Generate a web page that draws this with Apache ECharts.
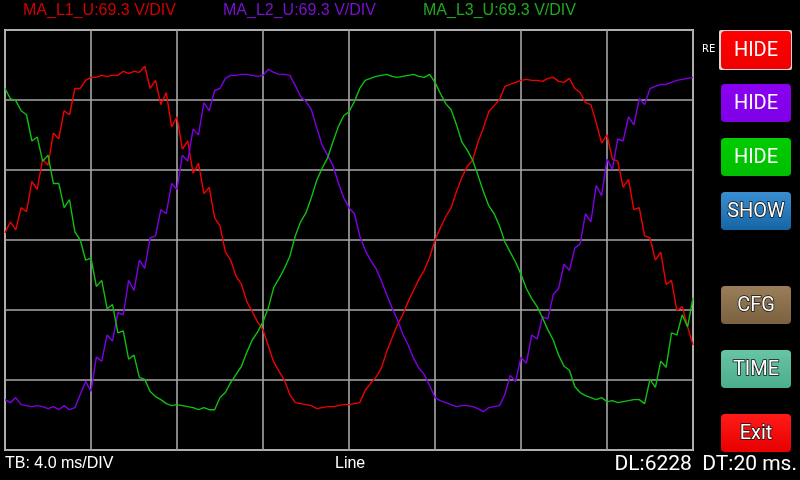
<!DOCTYPE html>
<html><head><meta charset="utf-8">
<script src="https://cdn.jsdelivr.net/npm/echarts@6/dist/echarts.min.js"></script>
<style>html,body{margin:0;padding:0;background:#000;}#c{width:800px;height:480px;}</style>
</head><body><div id="c"></div>
<script>
// Oscilloscope capture: 129 samples, 0.25 ms apart, 4.0 ms/DIV, 69.3 V/DIV
const SAMPLE_MS = 0.25;
const TIME_PER_DIV = 4.0;
const VOLT_PER_DIV = 69.3;
const channelNames = ['MA_L1_U', 'MA_L2_U', 'MA_L3_U'];
const channelColors = ['#f00000', '#8000e6', '#10c010'];
const labelColors = ['#d00000', '#7a10d0', '#20a820'];

const l1Volts = [7,18,10,32,28,58,50,80,74,106,100,128,124,150,150,158,161,161,163,162,163,163,167,165,167,166,172,150,158,134,146,112,122,90,98,66,76,46,52,22,14,-12,-20,-36,-44,-61,-71,-81,-89,-105,-121,-130,-139,-153,-161,-162,-163,-164,-167,-166,-165,-165,-164,-163,-163,-162,-161,-149,-142,-136,-127,-111,-97,-84,-74,-61,-50,-39,-30,-17,0,12,23,32,48,62,73,79,97,111,127,133,139,152,154,156,158,159,158,158,157,160,161,157,156,160,150,146,136,134,116,96,104,80,78,52,60,30,32,4,2,-20,-12,-44,-40,-70,-66,-86,-104];

const l2Volts = [-158,-161,-156,-163,-164,-165,-164,-165,-167,-165,-168,-164,-168,-166,-153,-140,-150,-116,-120,-94,-100,-72,-74,-40,-50,-20,-28,2,4,30,26,56,50,84,78,110,104,136,128,148,150,160,163,163,164,164,163,162,163,169,166,164,164,163,153,142,137,129,111,94,84,74,57,42,32,26,4,-10,-20,-28,-40,-54,-67,-79,-93,-104,-117,-127,-133,-144,-156,-159,-161,-163,-165,-164,-164,-165,-167,-170,-166,-165,-164,-153,-134,-140,-116,-122,-94,-98,-76,-78,-54,-48,-24,-30,-8,-4,26,18,54,44,80,70,100,98,122,114,140,134,150,152,154,154,156,158,159,160,161];

const l3Volts = [150,140,138,128,124,98,102,78,84,56,56,32,40,8,0,-20,-18,-46,-40,-68,-64,-92,-90,-118,-114,-136,-138,-150,-155,-158,-162,-164,-163,-164,-165,-166,-168,-166,-168,-168,-156,-151,-141,-133,-125,-111,-99,-91,-81,-67,-47,-38,-28,-16,4,18,27,42,59,71,81,97,112,123,127,137,150,158,160,162,163,164,162,161,162,163,164,162,161,164,156,145,135,129,114,97,89,79,64,48,34,26,14,-2,-12,-22,-34,-48,-58,-66,-77,-89,-99,-114,-125,-129,-145,-151,-154,-156,-158,-156,-160,-159,-161,-160,-159,-158,-158,-162,-138,-146,-120,-126,-92,-94,-74,-86,-57];

const channelData = [l1Volts, l2Volts, l3Volts];
const sampleTimes = l1Volts.map((_, i) => +(i * SAMPLE_MS).toFixed(2));

const headerTexts = channelNames.map(n => n + ':' + VOLT_PER_DIV.toFixed(1) + ' V/DIV');
const footerLeft = 'TB: ' + TIME_PER_DIV.toFixed(1) + ' ms/DIV';
const footerMid = 'Line';
const footerRight = 'DL:6228  DT:20 ms.';

const buttons = [
  {label: 'HIDE', color: '#ff0000', color2: '#f00000', y: 31, outline: false, frame: true},
  {label: 'HIDE', color: '#8a00f2', color2: '#7f00e6', y: 84, outline: false},
  {label: 'HIDE', color: '#00cc00', color2: '#00bf00', y: 138, outline: false},
  {label: 'SHOW', color: '#3a8ed0', color2: '#1465a6', y: 192, outline: true},
  {label: 'CFG', color: '#9a7e58', color2: '#7b6140', y: 286, outline: true},
  {label: 'TIME', color: '#68c4a4', color2: '#4aae8c', y: 350, outline: true},
  {label: 'Exit', color: '#ff1a1a', color2: '#e80000', y: 414, outline: true}
];

const chart = echarts.init(document.getElementById('c'), null, {renderer: 'canvas'});

const graphics = [];
headerTexts.forEach((t, i) => {
  graphics.push({type: 'text', left: 23 + i * 200, top: 3, style: {text: t, fill: labelColors[i], font: '16px "Liberation Sans", Arial, sans-serif'}});
});
graphics.push({type: 'text', left: 5, top: 456, style: {text: footerLeft, fill: '#ffffff', font: '16px "Liberation Sans", Arial, sans-serif'}});
graphics.push({type: 'text', left: 335, top: 456, style: {text: footerMid, fill: '#ffffff', font: '16px "Liberation Sans", Arial, sans-serif'}});
graphics.push({type: 'text', right: 3, top: 454, style: {text: footerRight, fill: '#ffffff', font: '21px Roboto, sans-serif'}});
graphics.push({type: 'text', left: 702, top: 44, style: {text: 'RE', fill: '#ffffff', font: '10px "DejaVu Sans", sans-serif'}});

buttons.forEach(b => {
  if (b.frame) {
    graphics.push({type: 'rect', shape: {x: 719, y: b.y - 1, width: 73, height: 40, r: 2}, style: {fill: '#d8d8d8'}});
  }
  graphics.push({type: 'rect', shape: {x: 721, y: b.y, width: 70, height: 38, r: 4},
    style: {fill: new echarts.graphic.LinearGradient(0, 0, 0, 1, [{offset: 0, color: b.color}, {offset: 1, color: b.color2}])}});
  graphics.push({type: 'text', x: 756, y: b.y + 20, style: {text: b.label, fill: '#ffffff', font: '20px Roboto, sans-serif', align: 'center', verticalAlign: 'middle',
    stroke: b.outline ? '#111111' : null, lineWidth: b.outline ? 1.5 : 0, strokeFirst: true}});
});

chart.setOption({
  backgroundColor: '#000000',
  animation: false,
  grid: {left: 5, top: 30, width: 688, height: 420, show: true, borderColor: '#c8c8c8', borderWidth: 2, backgroundColor: 'transparent'},
  xAxis: {type: 'value', min: 0, max: 32, interval: TIME_PER_DIV,
    axisLine: {show: false}, axisTick: {show: false}, axisLabel: {show: false},
    splitLine: {show: true, lineStyle: {color: '#a6a6a6', width: 1.6}}},
  yAxis: {type: 'value', min: -3 * VOLT_PER_DIV, max: 3 * VOLT_PER_DIV, interval: VOLT_PER_DIV,
    axisLine: {show: false}, axisTick: {show: false}, axisLabel: {show: false},
    splitLine: {show: true, lineStyle: {color: '#a6a6a6', width: 1.6}}},
  series: channelData.map((vals, k) => ({
    type: 'line', name: channelNames[k], showSymbol: false, symbol: 'none',
    data: vals.map((v, i) => [sampleTimes[i], v]),
    lineStyle: {color: channelColors[k], width: 1.4}, itemStyle: {color: channelColors[k]}
  })),
  graphic: graphics
});
</script></body></html>
